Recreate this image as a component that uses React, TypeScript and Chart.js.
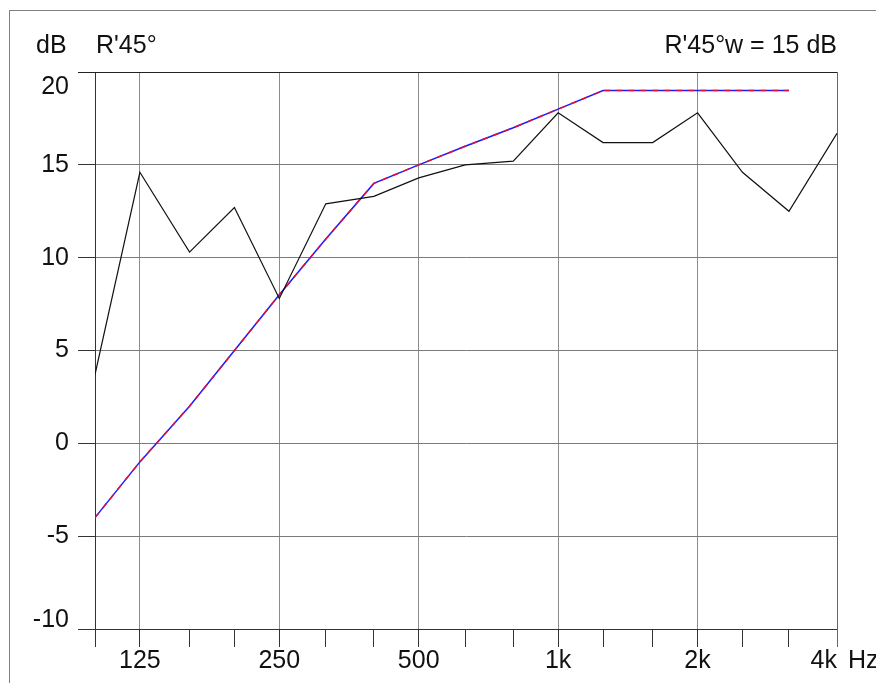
import React, { useEffect, useRef } from "react";
import { Chart, registerables } from "chart.js";

Chart.register(...registerables);

const bands = [100, 125, 160, 200, 250, 315, 400, 500, 630, 800, 1000, 1250, 1600, 2000, 2500, 3150, 4000];
const measured = [3.7, 14.6, 10.3, 12.7, 7.8, 12.9, 13.3, 14.3, 15.0, 15.2, 17.8, 16.2, 16.2, 17.8, 14.6, 12.5, 16.7];
const refBands = [100, 125, 160, 200, 250, 315, 400, 500, 630, 800, 1000, 1250, 1600, 2000, 2500, 3150];
const refCurve = [-4, -1, 2, 5, 8, 11, 14, 15, 16, 17, 18, 19, 19, 19, 19, 19];
const xLabelValues = [125, 250, 500, 1000, 2000, 4000];
const xLabelTexts = ["125", "250", "500", "1k", "2k", "4k"];
const yTicks = [-10, -5, 0, 5, 10, 15, 20];
const yTickLabels = ["-10", "-5", "0", "5", "10", "15", "20"];
const titleLeft = "R'45°";
const titleRight = "R'45°w = 15 dB";
const unitY = "dB";
const unitX = "Hz";

const FONT = "25px 'Liberation Sans', Arial, sans-serif";

const decorPlugin = {
  id: "decor",
  afterDraw(chart: any) {
    const ctx = chart.ctx;
    const area = chart.chartArea;
    const xs = chart.scales.x;
    const ys = chart.scales.y;
    ctx.save();
    // outer frame
    ctx.strokeStyle = "#808080";
    ctx.lineWidth = 1;
    ctx.strokeRect(9.5, 10.5, 1000, 1000);
    // plot frame top & right
    ctx.strokeStyle = "#222";
    ctx.beginPath();
    ctx.moveTo(78, Math.round(area.top) + 0.5);
    ctx.lineTo(Math.round(area.right) + 0.5, Math.round(area.top) + 0.5);
    ctx.stroke();
    ctx.strokeStyle = "#666";
    ctx.beginPath();
    ctx.moveTo(Math.round(area.right) + 0.5, area.top);
    ctx.lineTo(Math.round(area.right) + 0.5, area.bottom + 18);
    ctx.stroke();

    ctx.fillStyle = "#111";
    ctx.font = FONT;
    // titles
    ctx.textBaseline = "alphabetic";
    ctx.textAlign = "left";
    ctx.fillText(unitY, 36, 53);
    ctx.fillText(titleLeft, 96, 53);
    ctx.textAlign = "right";
    ctx.fillText(titleRight, 837, 53);

    // y labels
    ctx.textBaseline = "middle";
    ctx.textAlign = "right";
    yTicks.forEach((v, i) => {
      let y = ys.getPixelForValue(v);
      if (i === yTicks.length - 1) y += 15;
      if (i === 0) y -= 9;
      ctx.fillText(yTickLabels[i], 69, y);
    });

    // x labels
    xLabelValues.forEach((v, i) => {
      const x = xs.getPixelForValue(v);
      if (i === xLabelValues.length - 1) {
        ctx.textAlign = "right";
        ctx.fillText(xLabelTexts[i], x, 661);
        ctx.textAlign = "left";
        ctx.fillText(unitX, x + 11, 661);
      } else {
        ctx.textAlign = "center";
        ctx.fillText(xLabelTexts[i], x, 661);
      }
    });
    ctx.restore();
  },
};

export default function App() {
  const ref = useRef<HTMLCanvasElement | null>(null);
  useEffect(() => {
    document.body.style.margin = "0";
    const canvas = ref.current!;
    const labeled = new Set([...xLabelValues]);
    const chart = new Chart(canvas, {
      type: "line",
      data: {
        datasets: [
          {
            data: bands.map((f, i) => ({ x: f, y: measured[i] })),
            borderColor: "#111",
            borderWidth: 1.2,
            pointRadius: 0,
            tension: 0,
            order: 0,
          },
          {
            data: refBands.map((f, i) => ({ x: f, y: refCurve[i] })),
            borderColor: "#e0103a",
            borderWidth: 1.5,
            borderDash: [6, 6],
            pointRadius: 0,
            tension: 0,
            order: 1,
          },
          {
            data: refBands.map((f, i) => ({ x: f, y: refCurve[i] })),
            borderColor: "#1a1aff",
            borderWidth: 1.5,
            pointRadius: 0,
            tension: 0,
            order: 2,
          },
        ],
      },
      options: {
        responsive: false,
        animation: false,
        devicePixelRatio: 1,
        layout: { padding: { left: 95, top: 72, right: 39, bottom: 54 } },
        plugins: { legend: { display: false }, tooltip: { enabled: false } },
        scales: {
          x: {
            type: "logarithmic",
            min: 100,
            max: 4000,
            afterBuildTicks: (s: any) => {
              s.ticks = bands.map((v) => ({ value: v }));
            },
            afterFit: (s: any) => {
              s.height = 0;
            },
            ticks: { display: false },
            border: { display: true, color: "#333", width: 1 },
            grid: {
              color: (c: any) =>
                c.tick && labeled.has(c.tick.value) ? "#8c8c8c" : "rgba(0,0,0,0)",
              tickColor: "#333",
              tickLength: 18,
              lineWidth: 1,
            },
          },
          y: {
            type: "linear",
            min: -10,
            max: 20,
            afterBuildTicks: (s: any) => {
              s.ticks = yTicks.map((v) => ({ value: v }));
            },
            afterFit: (s: any) => {
              s.width = 0;
            },
            ticks: { display: false },
            border: { display: true, color: "#333", width: 1 },
            grid: {
              color: "#7a7a7a",
              tickColor: "#333",
              tickLength: 17,
              lineWidth: 1,
            },
          },
        },
      },
      plugins: [decorPlugin],
    });
    return () => chart.destroy();
  }, []);
  return <canvas ref={ref} width={876} height={683} style={{ display: "block" }} />;
}
